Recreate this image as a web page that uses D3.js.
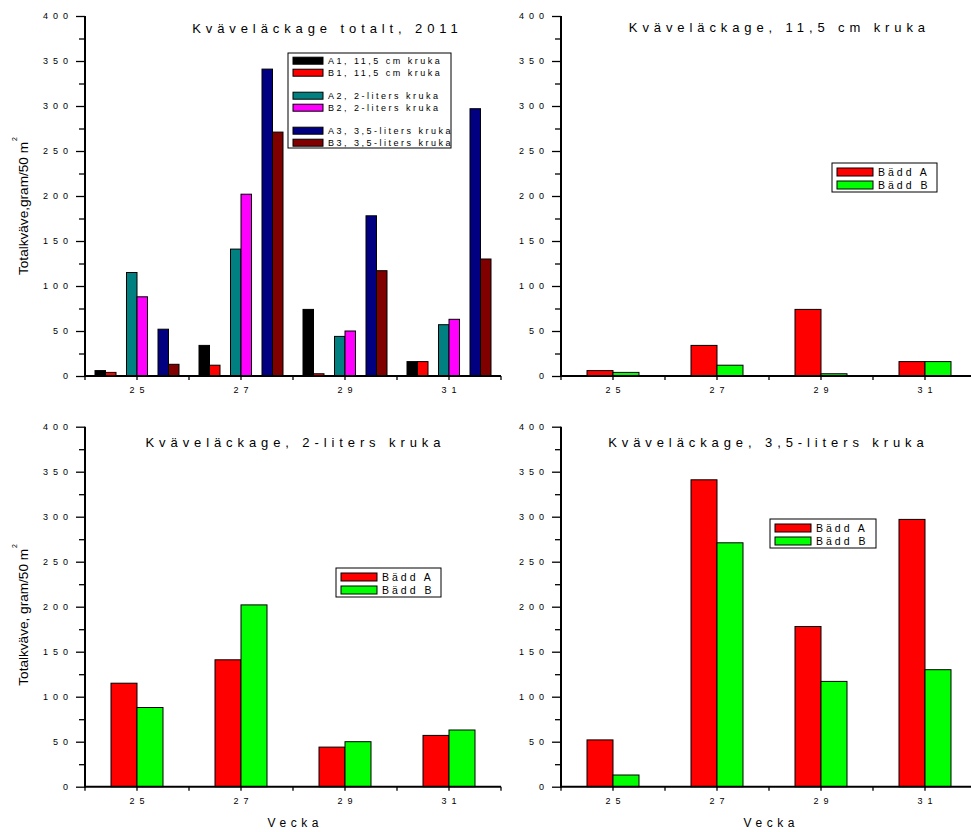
<!DOCTYPE html>
<html>
<head>
<meta charset="utf-8">
<script src="https://cdn.jsdelivr.net/npm/d3@7/dist/d3.min.js"></script>
<style>
  html, body { margin: 0; padding: 0; background: #fff; }
  svg { display: block; }
  text { font-family: Arial, "Liberation Sans", sans-serif; fill: #000; }
</style>
</head>
<body>
<svg id="chart" width="971" height="832"></svg>
<script>
// Weeks (Vecka) on the x axis
const weeks = ["25", "27", "29", "31"];

// Nitrogen leakage, gram per 50 m², per bed (A/B) and pot size
const a1 = [6, 34, 74, 16];      // A1, 11,5 cm kruka
const b1 = [4, 12, 2.5, 16];     // B1, 11,5 cm kruka
const a2 = [115, 141, 44, 57];   // A2, 2-liters kruka
const b2 = [88, 202, 50, 63];    // B2, 2-liters kruka
const a3 = [52, 341, 178, 297];  // A3, 3,5-liters kruka
const b3 = [13, 271, 117, 130];  // B3, 3,5-liters kruka

const yTicks = [0, 50, 100, 150, 200, 250, 300, 350, 400];
const yMinorTicks = [25, 75, 125, 175, 225, 275, 325, 375];

const totalSeries = [
  { name: "A1, 11,5 cm kruka", pair: "1", bed: "A", values: a1, color: "#000000" },
  { name: "B1, 11,5 cm kruka", pair: "1", bed: "B", values: b1, color: "#ff0000" },
  { name: "A2, 2-liters kruka", pair: "2", bed: "A", values: a2, color: "#008080" },
  { name: "B2, 2-liters kruka", pair: "2", bed: "B", values: b2, color: "#ff00ff" },
  { name: "A3, 3,5-liters kruka", pair: "3", bed: "A", values: a3, color: "#000080" },
  { name: "B3, 3,5-liters kruka", pair: "3", bed: "B", values: b3, color: "#800000" }
];

const bedColors = { A: "#ff0000", B: "#00ff00" };

const svg = d3.select("#chart");
const W = 416, H = 360;

const panels = [
  { left: 85, top: 16, title: "Kväveläckage totalt, 2011", titleX: 325, titleY: 33,
    ylabel: "Totalkväve,gram/50 m", vecka: false,
    series: totalSeries, legend: { x: 288, y: 53, w: 163, h: 95 } },
  { left: 561, top: 16, title: "Kväveläckage, 11,5 cm kruka", titleX: 777, titleY: 32,
    ylabel: null, vecka: false,
    series: [{ name: "Bädd A", bed: "A", values: a1 }, { name: "Bädd B", bed: "B", values: b1 }],
    legend: { x: 832, y: 163, w: 105, h: 29 } },
  { left: 85, top: 426.7, title: "Kväveläckage, 2-liters kruka", titleX: 293, titleY: 447,
    ylabel: "Totalkväve, gram/50 m", vecka: true,
    series: [{ name: "Bädd A", bed: "A", values: a2 }, { name: "Bädd B", bed: "B", values: b2 }],
    legend: { x: 336, y: 568, w: 105, h: 29 } },
  { left: 561, top: 426.7, title: "Kväveläckage, 3,5-liters kruka", titleX: 766, titleY: 447,
    ylabel: null, vecka: true,
    series: [{ name: "Bädd A", bed: "A", values: a3 }, { name: "Bädd B", bed: "B", values: b3 }],
    legend: { x: 770, y: 519, w: 106, h: 29 } }
];

const tickLS = 5;   // letter spacing of tick labels

panels.forEach((p, pi) => {
  const g = svg.append("g");
  const x = d3.scaleBand().domain(weeks).range([p.left, p.left + W]).padding(0);
  const y = d3.scaleLinear().domain([0, 400]).range([p.top + H, p.top]);

  // Bars
  if (pi === 0) {
    const pairScale = d3.scaleBand().domain(["1", "2", "3"]).range([-42, 42]).paddingInner(1 / 3);
    const bedScale = d3.scaleBand().domain(["A", "B"]).range([0, pairScale.bandwidth()]);
    p.series.forEach(s => {
      g.selectAll(null).data(s.values).enter().append("rect")
        .attr("x", (d, i) => x(weeks[i]) + x.bandwidth() / 2 + pairScale(s.pair) + bedScale(s.bed))
        .attr("y", d => y(d))
        .attr("width", bedScale.bandwidth())
        .attr("height", d => y(0) - y(d))
        .attr("fill", s.color)
        .attr("stroke", "#000")
        .attr("stroke-width", 1);
    });
  } else {
    const bedScale = d3.scaleBand().domain(["A", "B"]).range([-26, 26]);
    p.series.forEach(s => {
      g.selectAll(null).data(s.values).enter().append("rect")
        .attr("x", (d, i) => x(weeks[i]) + x.bandwidth() / 2 + bedScale(s.bed))
        .attr("y", d => y(d))
        .attr("width", bedScale.bandwidth())
        .attr("height", d => y(0) - y(d))
        .attr("fill", bedColors[s.bed])
        .attr("stroke", "#000")
        .attr("stroke-width", 1);
    });
  }

  // Y axis: major ticks with labels, minor ticks without
  const yAxis = d3.axisLeft(y).tickValues(yTicks).tickSize(9).tickPadding(0).tickFormat(d3.format("d"));
  const ya = g.append("g").attr("transform", `translate(${p.left},0)`).call(yAxis);
  ya.select(".domain").remove();
  ya.selectAll(".tick line").attr("stroke-width", 1.3);
  ya.selectAll(".tick text")
    .attr("x", -17 + tickLS)
    .attr("dy", "0.32em")
    .attr("font-size", 9)
    .attr("letter-spacing", tickLS)
    .attr("font-family", null);
  const yMinor = d3.axisLeft(y).tickValues(yMinorTicks).tickSize(6).tickFormat("");
  const ym = g.append("g").attr("transform", `translate(${p.left},0)`).call(yMinor);
  ym.select(".domain").remove();
  ym.selectAll(".tick line").attr("stroke-width", 1.3);

  // X axis: labels at week centres, ticks at centres and band edges
  const xAxis = d3.axisBottom(x).tickSize(4).tickPadding(0);
  const xa = g.append("g").attr("transform", `translate(0,${p.top + H})`).call(xAxis);
  xa.select(".domain").remove();
  xa.selectAll(".tick line").attr("stroke-width", 1.3);
  xa.selectAll(".tick text")
    .attr("y", 17)
    .attr("dy", 0)
    .attr("x", tickLS / 2)
    .attr("font-size", 9)
    .attr("letter-spacing", tickLS)
    .attr("font-family", null);
  g.selectAll(null).data(weeks.map(w => x(w)).concat([p.left + W])).enter().append("line")
    .attr("x1", d => d).attr("x2", d => d)
    .attr("y1", p.top + H).attr("y2", p.top + H + 4)
    .attr("stroke", "#000").attr("stroke-width", 1.3);

  // Axis lines
  g.append("line")
    .attr("x1", p.left).attr("x2", p.left)
    .attr("y1", p.top).attr("y2", p.top + H + 1)
    .attr("stroke", "#000").attr("stroke-width", 2);
  g.append("line")
    .attr("x1", p.left - 1).attr("x2", p.left + W)
    .attr("y1", p.top + H).attr("y2", p.top + H)
    .attr("stroke", "#000").attr("stroke-width", 2);

  // Title
  const titleLS = 4.9;
  g.append("text")
    .attr("x", p.titleX + titleLS / 2)
    .attr("y", p.titleY)
    .attr("text-anchor", "middle")
    .attr("font-size", 13)
    .attr("letter-spacing", titleLS)
    .text(p.title);

  // Y axis label with superscript
  if (p.ylabel) {
    const yl = g.append("text")
      .attr("transform", `translate(28,${p.top + H - 101}) rotate(-90)`)
      .attr("font-size", 13.6);
    yl.append("tspan").text(p.ylabel);
    yl.append("tspan").attr("dx", 1).attr("dy", -11).attr("font-size", 7).text("2");
  }

  // X axis label
  if (p.vecka) {
    const vLS = 4.6;
    g.append("text")
      .attr("x", p.left + W / 2 + vLS / 2)
      .attr("y", 827)
      .attr("text-anchor", "middle")
      .attr("font-size", 12)
      .attr("letter-spacing", vLS)
      .text("Vecka");
  }

  // Legend
  const L = p.legend;
  const lg = g.append("g");
  lg.append("rect")
    .attr("x", L.x).attr("y", L.y).attr("width", L.w).attr("height", L.h)
    .attr("fill", "#fff").attr("stroke", "#000").attr("stroke-width", 1);
  if (pi === 0) {
    const rowY = [60.7, 72.7, 95.7, 107.7, 130.7, 142.7];
    p.series.forEach((s, i) => {
      lg.append("rect")
        .attr("x", L.x + 5).attr("y", rowY[i] - 3.5).attr("width", 30).attr("height", 7)
        .attr("fill", s.color).attr("stroke", "#000").attr("stroke-width", 1);
      lg.append("text")
        .attr("x", L.x + 40).attr("y", rowY[i]).attr("dy", "0.35em")
        .attr("font-size", 9).attr("letter-spacing", 2.5)
        .text(s.name);
    });
  } else {
    p.series.forEach((s, i) => {
      const cy = L.y + 9 + i * 13;
      lg.append("rect")
        .attr("x", L.x + 5).attr("y", cy - 4).attr("width", 36).attr("height", 8)
        .attr("fill", bedColors[s.bed]).attr("stroke", "#000").attr("stroke-width", 1);
      lg.append("text")
        .attr("x", L.x + 46).attr("y", cy).attr("dy", "0.35em")
        .attr("font-size", 10.5).attr("letter-spacing", 3)
        .text(s.name);
    });
  }
});
</script>
</body>
</html>
